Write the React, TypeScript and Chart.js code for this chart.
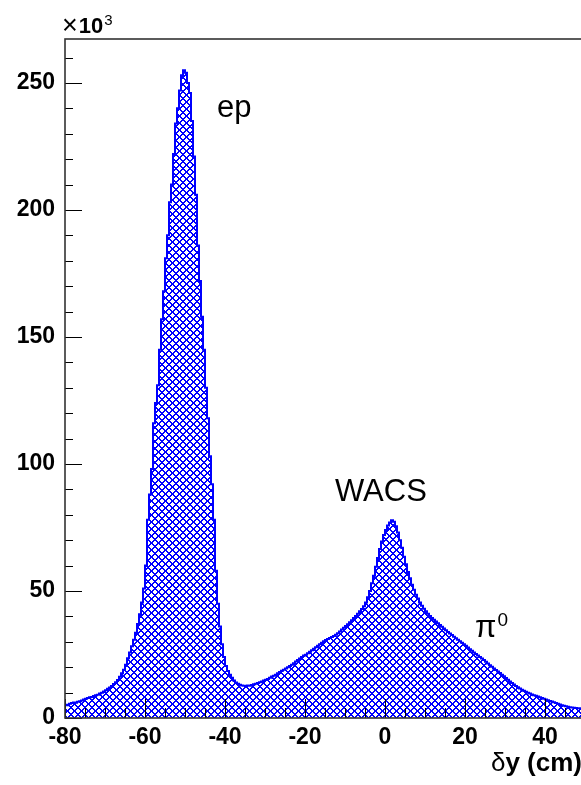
import { useEffect, useRef } from "react";
import { Chart, registerables } from "chart.js";

Chart.register(...registerables);

// δy histogram, 0.5 cm bins, counts in units of 10^3
const BIN_WIDTH = 0.5;
const X_MIN = -80;
const X_MAX = 50;
const Y_MAX = 267.3;
const X_STEP = 20;
const X_MINOR = 5;
const Y_STEP = 50;
const Y_MINOR = 10;

// bins from -80 to -60
const tailLeft = [
  5.2, 5.0, 5.6, 5.9, 6.1, 6.0, 6.4, 6.6, 6.9, 7.3,
  7.6, 7.9, 8.2, 8.3, 8.7, 9.0, 9.2, 9.6, 9.9, 10.4,
  10.9, 11.5, 12.0, 12.6, 13.4, 14.1, 15.0, 16.2, 17.6, 19.0,
  21.0, 23.5, 25.8, 28.2, 30.8, 33.6, 37.0, 40.8, 45.5, 51.0,
];
// bins from -60 to -40 (elastic ep peak)
const epPeak = [
  60, 78, 88, 98, 116, 124, 131, 145, 157, 168,
  181, 190, 203, 210, 222, 234, 240, 247, 253, 255,
  254, 250, 246, 235, 221, 206, 186, 172, 158, 145,
  130, 118, 103, 92, 78, 58, 45, 36, 29, 24,
];
// bins from -40 to -5
const valley = [
  20.5, 18.5, 17.0, 15.8, 14.8, 14.0, 13.5, 13.1, 12.8, 12.7,
  12.6, 12.8, 12.7, 13.0, 13.3, 13.5, 13.8, 14.1, 14.4, 14.8,
  15.1, 15.4, 15.8, 16.3, 16.6, 17.0, 17.6, 18.1, 18.6, 19.0,
  19.5, 20.0, 20.5, 21.0, 21.6, 22.2, 22.8, 23.4, 24.0, 24.6,
  24.9, 25.5, 26.1, 26.7, 27.3, 27.9, 28.4, 29.0, 29.6, 30.2,
  30.7, 31.1, 31.5, 31.9, 32.3, 32.8, 33.4, 34.1, 34.8, 35.5,
  36.2, 36.9, 37.7, 38.5, 39.4, 40.2, 41.0, 42.0, 42.9, 44.0,
];
// bins from -5 to 10 (WACS peak)
const wacsPeak = [
  45.5, 47.5, 50.0, 53.0, 56.0, 59.5, 63.0, 66.5, 69.5, 72.0,
  74.0, 75.8, 77.0, 77.8, 77.3, 75.5, 73.0, 70.0, 67.0, 63.5,
  60.5, 57.5, 55.0, 52.5, 50.5, 48.5, 47.0, 45.5, 44.2, 43.0,
];
// bins from 10 to 50
const tailRight = [
  42.0, 41.0, 40.2, 39.4, 38.7, 38.0, 37.3, 36.6, 35.9, 35.2,
  34.5, 33.9, 33.3, 32.7, 32.0, 31.4, 30.8, 30.2, 29.6, 29.0,
  28.4, 27.8, 27.1, 26.5, 25.8, 25.2, 24.6, 24.0, 23.4, 22.8,
  22.1, 21.5, 20.8, 20.2, 19.5, 18.9, 18.3, 17.7, 17.0, 16.4,
  15.7, 15.1, 14.4, 13.8, 13.2, 12.6, 12.1, 11.6, 11.1, 10.7,
  10.3, 9.9, 9.6, 9.3, 9.0, 8.8, 8.5, 8.2, 7.9, 7.6,
  7.3, 7.0, 6.7, 6.5, 6.2, 5.9, 5.6, 5.3, 5.0, 4.8,
  4.6, 4.4, 4.2, 4.1, 4.0, 3.9, 3.8, 3.8, 3.7, 3.6,
];

const counts = [...tailLeft, ...epPeak, ...valley, ...wacsPeak, ...tailRight];

const FONT = "'Liberation Sans', Arial, Helvetica, sans-serif";
const BLUE = "#0000ff";

// crisp diagonal cross-hatch tile, 2px wide lines every 7px
function makeHatch(): CanvasPattern | string {
  const s = 7;
  const c = document.createElement("canvas");
  c.width = s;
  c.height = s;
  const g = c.getContext("2d");
  if (!g) return BLUE;
  const img = g.createImageData(s, s);
  for (let j = 0; j < s; j++) {
    for (let i = 0; i < s; i++) {
      const d1 = (((i - j) % s) + s) % s;
      const d2 = (i + j) % s;
      const on = d1 <= 1 || d2 <= 1;
      const k = (j * s + i) * 4;
      img.data[k] = on ? 0 : 255;
      img.data[k + 1] = on ? 0 : 255;
      img.data[k + 2] = 255;
      img.data[k + 3] = on ? 255 : 0;
    }
  }
  g.putImageData(img, 0, 0);
  return g.createPattern(c, "repeat") || BLUE;
}

const frameAndLabels = {
  id: "frameAndLabels",
  afterDatasetsDraw(chart: any) {
    const { ctx, chartArea: a, scales } = chart;
    const x = scales.x;
    const y = scales.y;
    ctx.save();
    ctx.strokeStyle = "#000";
    ctx.lineWidth = 1;
    ctx.beginPath();
    for (let v = X_MIN; v <= X_MAX + 1e-9; v += X_MINOR) {
      const px = Math.round(x.getPixelForValue(v)) + 0.5;
      const len = Math.abs(v % X_STEP) < 1e-9 ? 19 : 10;
      ctx.moveTo(px, a.bottom);
      ctx.lineTo(px, a.bottom - len);
    }
    for (let v = 0; v <= Y_MAX; v += Y_MINOR) {
      const py = Math.round(y.getPixelForValue(v)) + 0.5;
      const len = Math.abs(v % Y_STEP) < 1e-9 ? 17 : 8;
      ctx.moveTo(a.left, py);
      ctx.lineTo(a.left + len, py);
    }
    ctx.stroke();

    ctx.strokeStyle = "#333";
    ctx.lineWidth = 1.6;
    ctx.strokeRect(a.left, a.top, a.right - a.left, a.bottom - a.top);

    ctx.fillStyle = "#000";
    ctx.textBaseline = "alphabetic";
    ctx.textAlign = "left";

    // exponent label above the y axis
    ctx.font = `27px ${FONT}`;
    ctx.fillText("\u00d7", a.left - 3, a.top - 5);
    const tw = ctx.measureText("\u00d7").width;
    ctx.font = `bold 22px ${FONT}`;
    ctx.fillText("10", a.left - 2 + tw, a.top - 6);
    const tw2 = ctx.measureText("10").width;
    ctx.font = `15px ${FONT}`;
    ctx.fillText("3", a.left - 1 + tw + tw2, a.top - 14);

    // peak labels
    ctx.font = `31px ${FONT}`;
    ctx.fillText("ep", x.getPixelForValue(-42), y.getPixelForValue(236.6));
    ctx.fillText("WACS", x.getPixelForValue(-12.5), y.getPixelForValue(85.4));
    const pix = x.getPixelForValue(22.5);
    const piy = y.getPixelForValue(31.9);
    ctx.fillText("\u03c0", pix, piy);
    const pw = ctx.measureText("\u03c0").width;
    ctx.font = `19px ${FONT}`;
    ctx.fillText("0", pix + pw + 1, piy - 11);

    // axis title, right-aligned to the axis end
    ctx.textAlign = "right";
    ctx.font = `bold 26px ${FONT}`;
    const rest = "y (cm)";
    const rw = ctx.measureText(rest).width;
    const tx = a.right - 3;
    const ty = 771;
    ctx.fillText(rest, tx, ty);
    ctx.font = `26px ${FONT}`;
    ctx.fillText("\u03b4", tx - rw, ty);
    ctx.restore();
  },
};

export default function App() {
  const ref = useRef<HTMLCanvasElement | null>(null);

  useEffect(() => {
    if (!ref.current) return;
    const points = counts.map((v, i) => ({ x: X_MIN + i * BIN_WIDTH, y: v }));
    points.push({ x: X_MIN + counts.length * BIN_WIDTH, y: counts[counts.length - 1] });

    const tickFont = { family: FONT, size: 23, weight: "bold" as const };

    const chart = new Chart(ref.current, {
      type: "line",
      data: {
        datasets: [
          {
            data: points,
            stepped: true,
            borderColor: BLUE,
            borderWidth: 2,
            backgroundColor: makeHatch() as any,
            fill: "origin",
            pointRadius: 0,
            tension: 0,
          },
        ],
      },
      options: {
        animation: false,
        responsive: false,
        events: [],
        layout: { padding: { top: 39, right: 15, left: 0, bottom: 0 } },
        plugins: { legend: { display: false }, tooltip: { enabled: false } },
        scales: {
          x: {
            type: "linear",
            min: X_MIN,
            max: X_MAX,
            grid: { display: false, drawTicks: false },
            border: { display: false },
            ticks: {
              stepSize: X_STEP,
              includeBounds: false,
              autoSkip: false,
              maxRotation: 0,
              padding: 6,
              color: "#000",
              font: tickFont,
            },
            afterFit: (s: any) => {
              s.height = 67;
            },
          },
          y: {
            type: "linear",
            min: 0,
            max: Y_MAX,
            grid: { display: false, drawTicks: false },
            border: { display: false },
            ticks: {
              stepSize: Y_STEP,
              includeBounds: false,
              padding: 10,
              color: "#000",
              font: tickFont,
            },
            afterFit: (s: any) => {
              s.width = 65;
            },
          },
        },
      },
      plugins: [frameAndLabels],
    });
    return () => chart.destroy();
  }, []);

  return (
    <div
      style={{
        position: "fixed",
        left: 0,
        top: 0,
        width: 581,
        height: 785,
        overflow: "hidden",
        background: "#fff",
      }}
    >
      <canvas ref={ref} width={600} height={785} style={{ display: "block" }} />
    </div>
  );
}
